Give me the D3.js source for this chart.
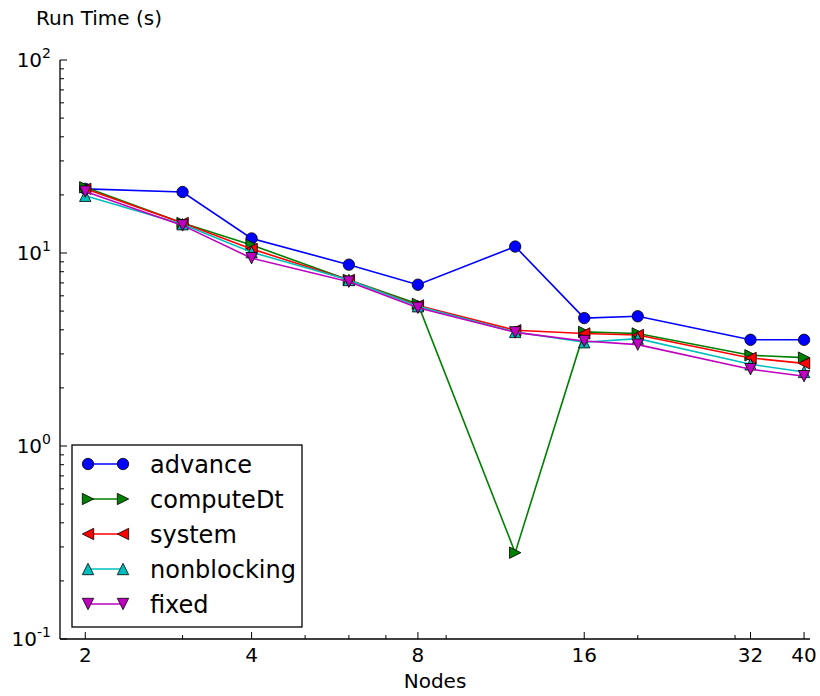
<!DOCTYPE html>
<html>
<head>
<meta charset="utf-8">
<script src="https://cdn.jsdelivr.net/npm/d3@7"></script>
<style>
  html, body { margin: 0; padding: 0; background: #fff; }
  svg { display: block; font-family: "DejaVu Sans", sans-serif; }
</style>
</head>
<body>
<svg id="chart" width="820" height="696"></svg>
<script>
// Run time per phase versus node count
const nodes = [2, 3, 4, 6, 8, 12, 16, 20, 32, 40];
const advance     = [21.5, 20.7, 11.9, 8.7, 6.85, 10.8, 4.6, 4.7, 3.55, 3.55];
const computeDt   = [21.9, 14.3, 11.0, 7.25, 5.45, 0.28, 3.9, 3.83, 2.95, 2.87];
const system      = [21.5, 14.3, 10.5, 7.25, 5.35, 3.98, 3.83, 3.76, 2.86, 2.68];
const nonblocking = [19.8, 14.1, 10.1, 7.25, 5.3, 3.9, 3.45, 3.6, 2.65, 2.42];
const fixed       = [20.8, 13.9, 9.4, 7.1, 5.2, 3.88, 3.5, 3.35, 2.5, 2.3];

const seriesNames = ["advance", "computeDt", "system", "nonblocking", "fixed"];
const seriesValues = [advance, computeDt, system, nonblocking, fixed];
const seriesColors = ["#0000ff", "#008000", "#ff0000", "#00bfbf", "#bf00bf"];
const seriesMarkers = ["circle", "right", "left", "up", "down"];

const xMajorTicks = [2, 4, 8, 16, 32, 40];
const xMinorTicks = [3, 5, 6, 7, 9, 20, 30];
const yDecades = [0.1, 1, 10, 100];
const yExponents = ["-1", "0", "1", "2"];

const svg = d3.select("#chart");
const plotLeft = 60, plotRight = 810, plotTop = 60, plotBottom = 639;

const x = d3.scaleLog().domain([1.8, 41]).range([plotLeft, plotRight]);
const y = d3.scaleLog().domain([0.1, 100]).range([plotBottom, plotTop]);

// marker shapes
const R = 5.7;
function markerPath(kind) {
  const h = R;
  switch (kind) {
    case "right": return `M${h},0L${-h},${h}L${-h},${-h}Z`;
    case "left":  return `M${-h},0L${h},${-h}L${h},${h}Z`;
    case "up":    return `M0,${-h}L${h},${h}L${-h},${h}Z`;
    case "down":  return `M0,${h}L${-h},${-h}L${h},${-h}Z`;
  }
}
function drawMarker(g, kind, color, cx, cy) {
  if (kind === "circle") {
    g.append("circle").attr("cx", cx).attr("cy", cy).attr("r", R)
      .attr("fill", color).attr("stroke", "#000").attr("stroke-width", 0.8);
  } else {
    g.append("path").attr("d", markerPath(kind))
      .attr("transform", `translate(${cx},${cy})`)
      .attr("fill", color).attr("stroke", "#000").attr("stroke-width", 0.8);
  }
}

// series
const line = d3.line().x(d => x(d[0])).y(d => y(d[1]));
const plot = svg.append("g");
seriesValues.forEach((vals, i) => {
  const pts = nodes.map((n, j) => [n, vals[j]]);
  const g = plot.append("g");
  g.append("path").datum(pts).attr("d", line)
    .attr("fill", "none").attr("stroke", seriesColors[i]).attr("stroke-width", 1.6);
  pts.forEach(p => drawMarker(g, seriesMarkers[i], seriesColors[i], x(p[0]), y(p[1])));
});

// axes: spines with inward ticks
const axes = svg.append("g").attr("stroke", "#000");
axes.append("line").attr("x1", plotLeft).attr("x2", plotLeft).attr("y1", plotTop).attr("y2", plotBottom).attr("stroke-width", 1.3);
axes.append("line").attr("x1", plotLeft).attr("x2", plotRight).attr("y1", plotBottom).attr("y2", plotBottom).attr("stroke-width", 1.3);

xMajorTicks.forEach(t => {
  axes.append("line").attr("x1", x(t)).attr("x2", x(t)).attr("y1", plotBottom).attr("y2", plotBottom - 7).attr("stroke-width", 1);
  svg.append("text").attr("x", x(t)).attr("y", 661.5).attr("text-anchor", "middle")
    .attr("font-size", 20).text(t);
});
xMinorTicks.forEach(t => {
  axes.append("line").attr("x1", x(t)).attr("x2", x(t)).attr("y1", plotBottom).attr("y2", plotBottom - 4).attr("stroke-width", 1);
});

yDecades.forEach((d, i) => {
  axes.append("line").attr("x1", plotLeft).attr("x2", plotLeft + 7).attr("y1", y(d)).attr("y2", y(d)).attr("stroke-width", 1);
  const t = svg.append("text").attr("x", 51).attr("y", y(d) + 7).attr("text-anchor", "end");
  t.append("tspan").attr("font-size", 20).text("10");
  t.append("tspan").attr("font-size", 14).attr("dy", -9).text(yExponents[i]);
  if (i < yDecades.length - 1) {
    for (let k = 2; k <= 9; k++) {
      const v = d * k;
      axes.append("line").attr("x1", plotLeft).attr("x2", plotLeft + 4).attr("y1", y(v)).attr("y2", y(v)).attr("stroke-width", 1);
    }
  }
});

// axis titles
svg.append("text").attr("x", 36).attr("y", 25).attr("font-size", 20).text("Run Time (s)");
svg.append("text").attr("x", (plotLeft + plotRight) / 2).attr("y", 688).attr("text-anchor", "middle")
  .attr("font-size", 20).text("Nodes");

// legend
const lg = svg.append("g");
lg.append("rect").attr("x", 72).attr("y", 445).attr("width", 230).attr("height", 182)
  .attr("fill", "#fff").attr("stroke", "#000").attr("stroke-width", 1.3);
seriesNames.forEach((name, i) => {
  const cy = 464 + i * 35;
  const g = lg.append("g");
  g.append("line").attr("x1", 88).attr("x2", 123).attr("y1", cy).attr("y2", cy)
    .attr("stroke", seriesColors[i]).attr("stroke-width", 1.6);
  drawMarker(g, seriesMarkers[i], seriesColors[i], 88, cy);
  drawMarker(g, seriesMarkers[i], seriesColors[i], 123, cy);
  g.append("text").attr("x", 150).attr("y", cy + 9).attr("font-size", 24).text(name);
});
</script>
</body>
</html>
